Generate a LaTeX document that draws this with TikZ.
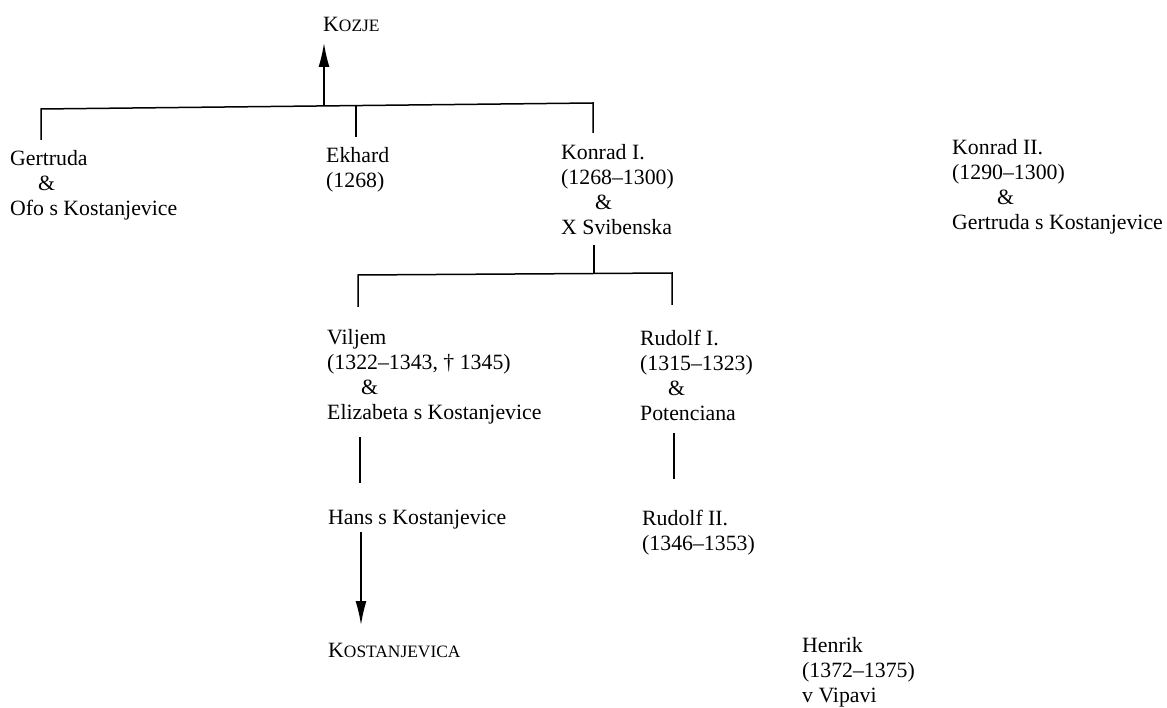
\documentclass[tikz,border=0pt]{standalone}
\usepackage{fontspec}
\setmainfont{Liberation Serif}
\usetikzlibrary{arrows.meta}
\newcommand{\fakesc}[2]{#1{\fontsize{17.4}{20}\selectfont #2}}
\tikzset{
  person/.style={align=left, anchor=north west, inner sep=0pt,
    font=\fontsize{21.8}{25}\selectfont},
  place/.style={anchor=west, inner sep=0pt, font=\fontsize{21.8}{25}\selectfont},
  tree/.style={line width=1.5pt},
  goto/.style={tree, -{Latex[length=24pt,width=11pt]}}
}
\begin{document}
\begin{tikzpicture}[x=1pt,y=-1pt]
\useasboundingbox (0,0) rectangle (1167,708);

% Places
\node[place] (kozje) at (323,24) {\fakesc{K}{OZJE}};
\node[place] (kostanjevica) at (328,650) {\fakesc{K}{OSTANJEVICA}};

% First generation
\node[person] (gertruda) at (10,150.5) {Gertruda\\\hspace{28pt}\&\\Ofo s Kostanjevice};
\node[person] (ekhard) at (326,147) {Ekhard\\(1268)};
\node[person] (konrad1) at (561,144.5) {Konrad I.\\(1268--1300)\\\hspace{34pt}\&\\X Svibenska};
\node[person] (konrad2) at (952,139.5) {Konrad II.\\(1290--1300)\\\hspace{45pt}\&\\Gertruda s Kostanjevice};

% Second generation
\node[person] (viljem) at (327,329.5) {Viljem\\(1322--1343, \dag\ 1345)\\\hspace{34pt}\&\\Elizabeta s Kostanjevice};
\node[person] (rudolf1) at (640,329.5) {Rudolf I.\\(1315--1323)\\\hspace{28pt}\&\\Potenciana};

% Third generation
\node[person] (hans) at (328,509.5) {Hans s Kostanjevice};
\node[person] (rudolf2) at (642,509.5) {Rudolf II.\\(1346--1353)};
\node[person] (henrik) at (802,637.5) {Henrik\\(1372--1375)\\v Vipavi};

% Junctions
\coordinate (j1) at (324,106);
\coordinate (j2) at (594,274);

% Bracket below Kozje
\draw[tree] (41,140) -- (41,109) -- (593,103) -- (593,133);
\draw[tree] (356,106) -- (356,137);
\draw[goto] (j1) -- (324,43);

% Bracket below Konrad I.
\draw[tree] (594,245) -- (j2);
\draw[tree] (358,307) -- (358,275) -- (672,273) -- (672,305);

% Descent lines
\draw[tree] (360,437) -- (360,483);
\draw[tree] (674,433) -- (674,479);
\draw[goto] (361,532) -- (361,625);

\end{tikzpicture}
\end{document}
